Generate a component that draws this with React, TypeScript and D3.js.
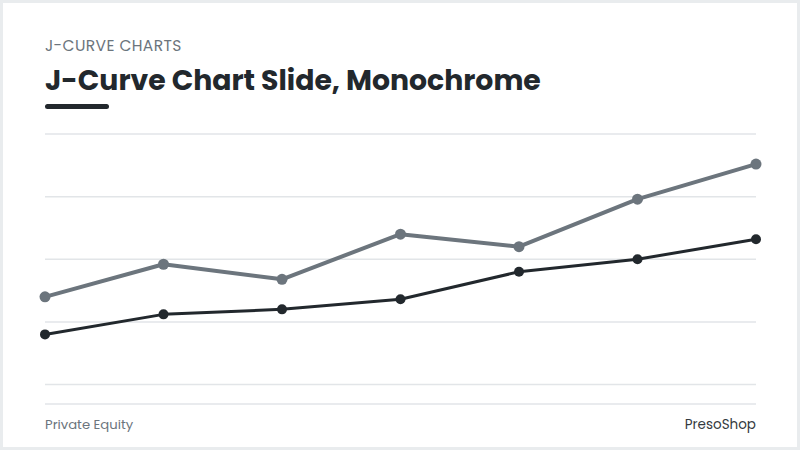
import React, { useRef, useEffect } from 'react';
import * as d3 from 'd3';

const periods = ['Y1', 'Y2', 'Y3', 'Y4', 'Y5', 'Y6', 'Y7'];
const upperSeries = [35, 48, 42, 60, 55, 74, 88];
const lowerSeries = [20, 28, 30, 34, 45, 50, 58];
const gridValues = [0, 25, 50, 75, 100];

const W = 800;
const H = 450;

export default function App() {
  const ref = useRef<SVGSVGElement>(null);

  useEffect(() => {
    if (!ref.current) return;
    drawChart(ref.current);
  }, []);

  return (
    <div style={{ position: 'absolute', left: 0, top: 0, width: W, height: H, background: '#e9ecee' }}>
      <svg ref={ref} width={W} height={H} style={{ display: 'block' }} />
    </div>
  );
}

function drawChart(svgElement: SVGSVGElement) {
  const svg = d3.select(svgElement);
  svg.selectAll('*').remove();

  const font = 'Poppins, Inter, "Noto Sans", sans-serif';

  // card
  svg.append('rect')
    .attr('x', 3).attr('y', 3)
    .attr('width', W - 6).attr('height', H - 6)
    .attr('fill', '#ffffff');

  // header
  svg.append('text')
    .attr('x', 45).attr('y', 51)
    .attr('font-family', font)
    .attr('font-size', 15.5)
    .attr('letter-spacing', 0.4)
    .attr('fill', '#6c757d')
    .text('J-CURVE CHARTS');

  svg.append('text')
    .attr('x', 45).attr('y', 90)
    .attr('font-family', font)
    .attr('font-size', 28.3)
    .attr('font-weight', 700)
    .attr('fill', '#22282d')
    .text('J-Curve Chart Slide, Monochrome');

  svg.append('rect')
    .attr('x', 45).attr('y', 104)
    .attr('width', 64).attr('height', 5)
    .attr('rx', 2.5)
    .attr('fill', '#22282d');

  const margin = { left: 45, right: 44, top: 134, bottom: 65.5 };

  const x = d3.scalePoint<string>()
    .domain(periods)
    .range([margin.left, W - margin.right]);

  const y = d3.scaleLinear()
    .domain([0, 100])
    .range([H - margin.bottom, margin.top]);

  // gridlines
  svg.append('g')
    .selectAll('line')
    .data(gridValues)
    .enter()
    .append('line')
    .attr('x1', margin.left)
    .attr('x2', W - margin.right)
    .attr('y1', (d) => y(d))
    .attr('y2', (d) => y(d))
    .attr('stroke', '#e2e5e8')
    .attr('stroke-width', 1.5);

  const line = d3.line<number>()
    .x((_, i) => x(periods[i])!)
    .y((d) => y(d));

  const series = [
    { values: upperSeries, color: '#6c757d', width: 4, r: 5.5 },
    { values: lowerSeries, color: '#22282d', width: 3, r: 5 },
  ];

  series.forEach((s) => {
    svg.append('path')
      .datum(s.values)
      .attr('d', line)
      .attr('fill', 'none')
      .attr('stroke', s.color)
      .attr('stroke-width', s.width)
      .attr('stroke-linejoin', 'round');

    svg.append('g')
      .selectAll('circle')
      .data(s.values)
      .enter()
      .append('circle')
      .attr('cx', (_, i) => x(periods[i])!)
      .attr('cy', (d) => y(d))
      .attr('r', s.r)
      .attr('fill', s.color);
  });

  // footer
  svg.append('line')
    .attr('x1', margin.left).attr('x2', W - margin.right)
    .attr('y1', 404).attr('y2', 404)
    .attr('stroke', '#e2e5e8')
    .attr('stroke-width', 1.5);

  svg.append('text')
    .attr('x', 45).attr('y', 429)
    .attr('font-family', font)
    .attr('font-size', 13.2)
    .attr('fill', '#6c757d')
    .text('Private Equity');

  svg.append('text')
    .attr('x', W - margin.right).attr('y', 429)
    .attr('text-anchor', 'end')
    .attr('font-family', font)
    .attr('font-size', 13.5)
    .attr('fill', '#343a40')
    .text('PresoShop');
}
